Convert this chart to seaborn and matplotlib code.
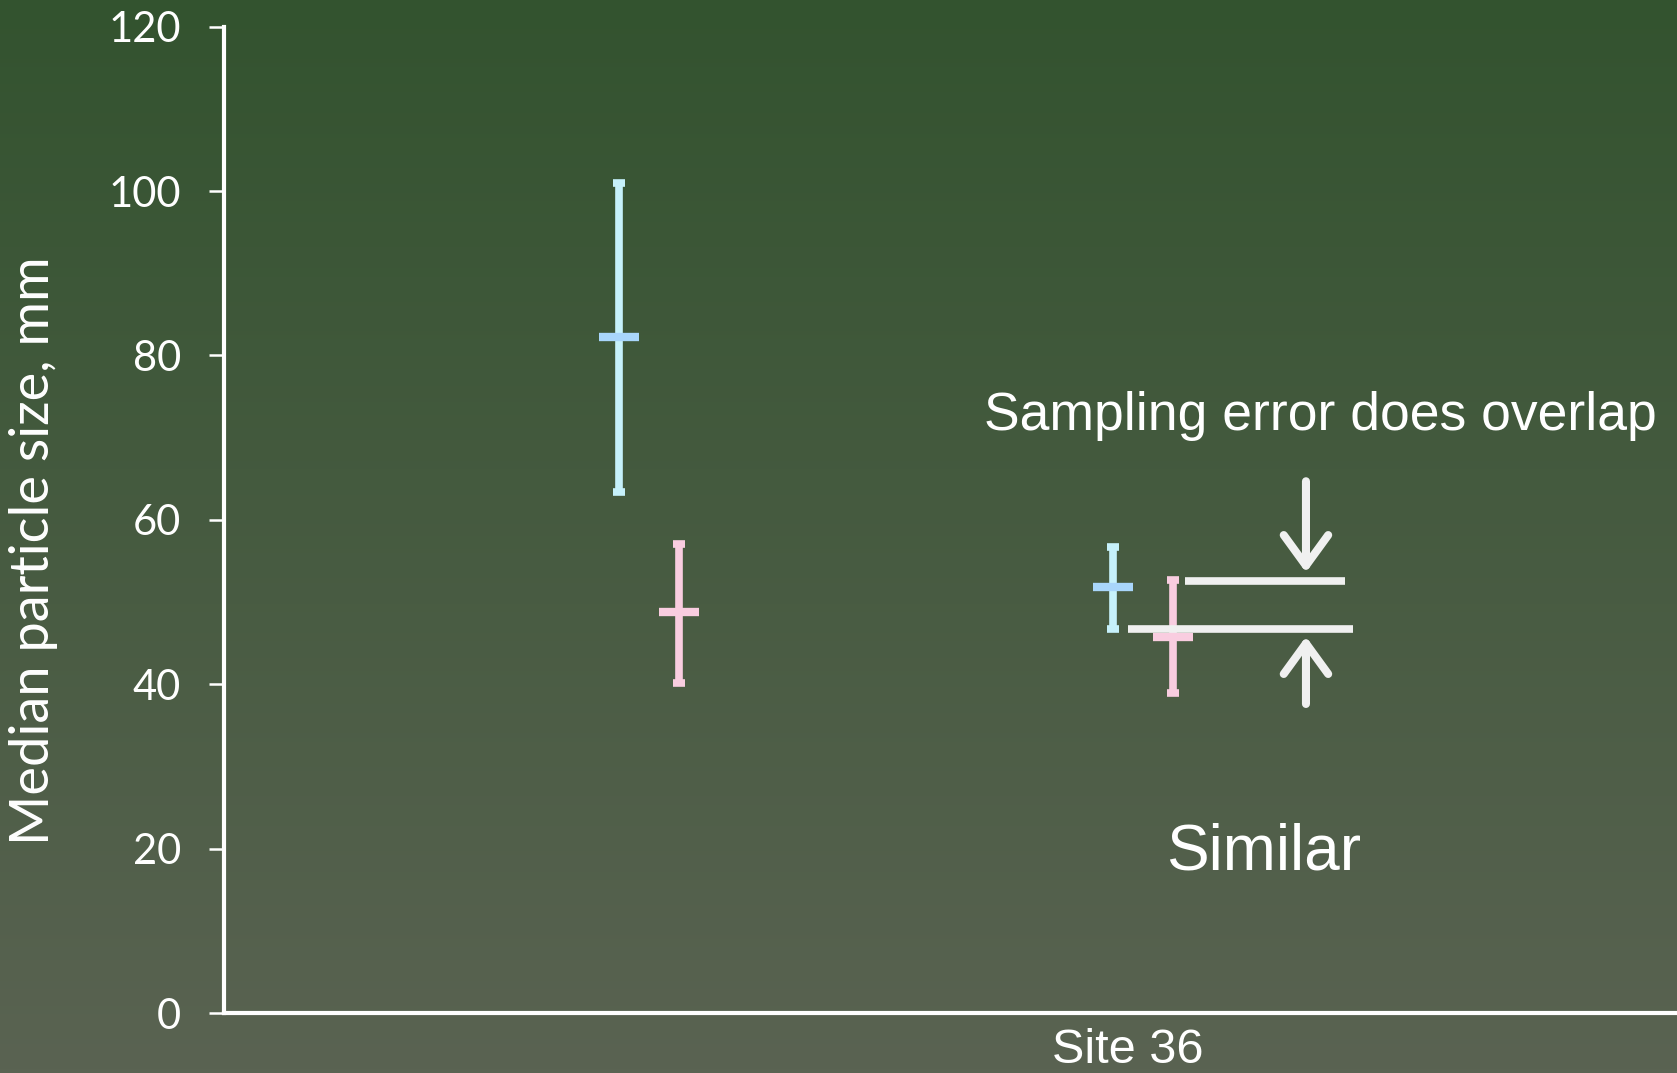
import numpy as np
import matplotlib
matplotlib.use("Agg")
import matplotlib.pyplot as plt
from matplotlib.colors import LinearSegmentedColormap
from matplotlib.patches import FancyArrowPatch
import seaborn as sns
import pandas as pd

# data
groups = ["", "Site 36"]
series = ["Series A", "Series B"]
means = {"Series A": [82.3, 51.8], "Series B": [48.8, 45.7]}
upper = {"Series A": [101.0, 56.7], "Series B": [57.1, 52.7]}
lower = {"Series A": [63.4, 46.7], "Series B": [40.2, 38.9]}
offsets = {"Series A": -0.03, "Series B": 0.09}
colors = {"Series A": "#C6F1FB", "Series B": "#F9CDE0"}
dash_colors = {"Series A": "#A9D6FB", "Series B": "#F9CDE0"}
yticks = [0, 20, 40, 60, 80, 100, 120]

# overlap guide lines (y value, x start, x end)
guide_upper = (52.6, 1.115, 1.44)
guide_lower = (46.7, 1.0, 1.455)
arrow_x = 1.36

sns.set_theme(style="white")
plt.rcParams["font.family"] = ["Liberation Sans", "DejaVu Sans"]

fig = plt.figure(figsize=(16.77, 10.73), dpi=100)

# gradient background
bg = fig.add_axes([0, 0, 1, 1], zorder=0)
cmap = LinearSegmentedColormap.from_list("bg", ["#33532F", "#5A6352"])
bg.imshow(np.linspace(0, 1, 256).reshape(-1, 1), aspect="auto", cmap=cmap,
          extent=[0, 1, 0, 1])
bg.axis("off")

ax = fig.add_axes([224 / 1677, 0.0559, 1 - 224 / 1677, 0.9192], zorder=1)
ax.set_facecolor("none")

rows = []
for s in series:
    for i, g in enumerate(groups):
        rows.append({"series": s, "x": i + offsets[s], "mean": means[s][i],
                     "lo": lower[s][i], "hi": upper[s][i]})
df = pd.DataFrame(rows)

for s in series:
    d = df[df["series"] == s]
    ax.errorbar(d["x"], d["mean"], yerr=[d["mean"] - d["lo"], d["hi"] - d["mean"]],
                fmt="none", ecolor=colors[s], elinewidth=5.5, capsize=4.5,
                capthick=5.5, zorder=3)
    sns.scatterplot(data=d, x="x", y="mean", marker="_", s=800,
                    color=dash_colors[s], linewidth=6, ax=ax, zorder=4,
                    legend=False)

line_col = "#F0F0F0"
for yv, x0, x1 in (guide_upper, guide_lower):
    ax.plot([x0, x1], [yv, yv], color=line_col, lw=5.5, zorder=5,
            solid_capstyle="butt")

for y0, y1 in ((64.7, 53.6), (37.6, 45.8)):
    ax.add_patch(FancyArrowPatch((arrow_x, y0), (arrow_x, y1),
                                 arrowstyle="->,head_length=1.1,head_width=0.8",
                                 mutation_scale=20, lw=5.8, color=line_col,
                                 capstyle="round", joinstyle="round",
                                 shrinkA=0, shrinkB=0, zorder=5))

ax.text(1.39, 72.6, "Sampling error does overlap", color="white",
        fontsize=38.5, ha="center", va="center")
ax.text(1.275, 19.5, "Similar", color="white", fontsize=46,
        ha="center", va="center")

ax.set_xlim(-0.83, 2.111)
ax.set_ylim(0, 120)
ax.set_xticks([1])
ax.set_xticklabels([groups[1]], fontsize=35, color="white")
ax.set_yticks(yticks)
ax.set_yticklabels([str(v) for v in yticks], fontsize=30, color="white",
                   family="Lato")
ax.tick_params(axis="x", length=0, pad=11)
ax.tick_params(axis="y", length=11, width=1.8, color="white", pad=20,
               left=True)
ax.set_xlabel("")
ax.set_ylabel("Median particle size, mm", fontsize=39, color="white",
              family="Lato", va="center")
ax.yaxis.set_label_coords(-0.131, 0.4685)

for side in ("top", "right"):
    ax.spines[side].set_visible(False)
for side in ("left", "bottom"):
    ax.spines[side].set_color("white")
    ax.spines[side].set_linewidth(3)

fig.savefig("out.png", dpi=100)
